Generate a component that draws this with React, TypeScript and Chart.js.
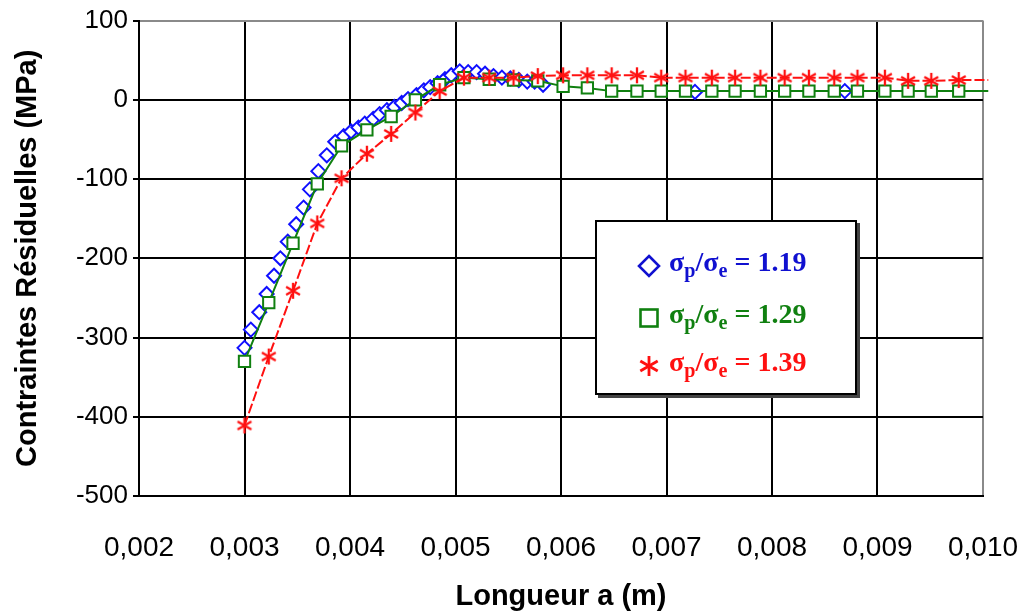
import React, { useEffect, useRef } from 'react';
import { Chart, registerables } from 'chart.js';

Chart.register(...registerables);

// ---- Data ----
const blueX = [0.003, 0.00306, 0.00314, 0.00321, 0.00328, 0.00334, 0.00341, 0.00349, 0.00356, 0.00362, 0.0037, 0.00378, 0.00386, 0.00394, 0.00401, 0.00408, 0.00414, 0.00422, 0.00428, 0.00435, 0.00442, 0.00449, 0.00455, 0.00463, 0.0047, 0.00476, 0.00483, 0.0049, 0.00496, 0.00504, 0.00512, 0.0052, 0.00528, 0.00536, 0.00544, 0.00552, 0.0056, 0.00568, 0.00575, 0.00583, 0.00727, 0.00869];
const blueY = [-313, -290, -268, -245, -222, -200, -179, -157, -136, -113, -90, -70, -53, -46, -40, -35, -30, -24, -18, -13, -9, -4, 1, 6, 12, 16, 21, 26, 31, 36, 35, 35, 33, 30, 28, 27, 25, 23, 23, 19, 10, 11];

const sampleX = [0.003, 0.00323, 0.00346, 0.00369, 0.00392, 0.00416, 0.00439, 0.00462, 0.00485, 0.00508, 0.00532, 0.00555, 0.00578, 0.00602, 0.00625, 0.00648, 0.00672, 0.00695, 0.00718, 0.00743, 0.00765, 0.00789, 0.00812, 0.00835, 0.00859, 0.00881, 0.00907, 0.00929, 0.00951, 0.00977, 0.01005];
const greenY = [-330, -256, -181, -106, -58, -38, -21, 0, 19, 28, 26, 25, 24, 17, 15, 11, 11, 11, 11, 11, 11, 11, 11, 11, 11, 11, 11, 11, 11, 11, 11];
const redY = [-411, -324, -241, -156, -99, -68, -43, -16, 11, 28, 28, 28, 30, 31, 31, 31, 31, 28, 28, 28, 28, 28, 28, 28, 28, 28, 28, 24, 24, 25, 25];

const xTickValues = [0.002, 0.003, 0.004, 0.005, 0.006, 0.007, 0.008, 0.009, 0.01];
const yTickValues = [-500, -400, -300, -200, -100, 0, 100];
const legendRatios = ['1.19', '1.29', '1.39'];
const legendColors = ['#1010d0', '#108010', '#ff1010'];

const xTitle = 'Longueur a (m)';
const yTitle = 'Contraintes Résiduelles (MPa)';

function makeStar(color: string) {
  const size = 20;
  const c = document.createElement('canvas');
  c.width = size;
  c.height = size;
  const ctx = c.getContext('2d')!;
  ctx.strokeStyle = color;
  ctx.lineWidth = 2.3;
  const cx = size / 2;
  const r = 8;
  ctx.beginPath();
  for (let i = 0; i < 3; i++) {
    const a = Math.PI / 2 + (i * Math.PI) / 3;
    ctx.moveTo(cx + Math.cos(a) * r, cx + Math.sin(a) * r);
    ctx.lineTo(cx - Math.cos(a) * r, cx - Math.sin(a) * r);
  }
  ctx.stroke();
  return c;
}

function LegendMarker({ kind, color }: { kind: number; color: string }) {
  if (kind === 0) {
    return (
      <svg width="24" height="24" viewBox="0 0 24 24">
        <polygon points="12,2 22,12 12,22 2,12" fill="none" stroke={color} strokeWidth="2.6" />
      </svg>
    );
  }
  if (kind === 1) {
    return (
      <svg width="24" height="24" viewBox="0 0 24 24">
        <rect x="3.5" y="3.5" width="17" height="17" fill="none" stroke={color} strokeWidth="2.6" />
      </svg>
    );
  }
  return (
    <svg width="24" height="24" viewBox="0 0 24 24">
      <g stroke={color} strokeWidth="2.8">
        <line x1="12" y1="2" x2="12" y2="22" />
        <line x1="3.3" y1="7" x2="20.7" y2="17" />
        <line x1="3.3" y1="17" x2="20.7" y2="7" />
      </g>
    </svg>
  );
}

export default function App() {
  const ref = useRef<HTMLCanvasElement>(null);

  useEffect(() => {
    document.body.style.margin = '0';
    const star = makeStar('#ff1010');
    const lastIdx = sampleX.length - 1;
    const chart = new Chart(ref.current!, {
      type: 'scatter',
      data: {
        datasets: [
          {
            label: 'sp/se = 1.19',
            data: blueX.map((x, i) => ({ x, y: blueY[i] })),
            showLine: false,
            pointStyle: 'rectRot',
            pointRadius: 7,
            pointBorderWidth: 2,
            pointBorderColor: '#1010ff',
            pointBackgroundColor: '#ffffff',
            order: 3,
          },
          {
            label: 'sp/se = 1.29',
            data: sampleX.map((x, i) => ({ x, y: greenY[i] })),
            showLine: true,
            borderColor: '#108010',
            borderWidth: 2,
            pointStyle: 'rect',
            pointRadius: (c: any) => (c.dataIndex === lastIdx ? 0 : 8),
            pointBorderWidth: 2,
            pointBorderColor: '#108010',
            pointBackgroundColor: '#ffffff',
            clip: { left: 0, top: 10, right: 12, bottom: 10 } as any,
            order: 2,
          },
          {
            label: 'sp/se = 1.39',
            data: sampleX.map((x, i) => ({ x, y: redY[i] })),
            showLine: true,
            borderColor: '#ff1010',
            borderWidth: 2,
            borderDash: [10, 3],
            pointStyle: star as any,
            pointRadius: (c: any) => (c.dataIndex === lastIdx ? 0 : 8),
            clip: { left: 0, top: 10, right: 12, bottom: 10 } as any,
            order: 1,
          },
        ],
      },
      options: {
        responsive: false,
        animation: false,
        layout: { padding: { left: 0, right: 44, top: 17, bottom: 0 } },
        plugins: {
          legend: { display: false },
          tooltip: { enabled: false },
        },
        scales: {
          x: {
            type: 'linear',
            min: xTickValues[0],
            max: xTickValues[xTickValues.length - 1],
            afterBuildTicks: (s: any) => {
              s.ticks = xTickValues.map((v) => ({ value: v }));
            },
            afterFit: (s: any) => {
              s.height = 120;
            },
            ticks: {
              color: '#000',
              padding: 4,
              font: { family: '"Liberation Sans", Arial, sans-serif', size: 28 },
              callback: (v: any) => Number(v).toFixed(3).replace('.', ','),
            },
            grid: {
              drawTicks: true,
              tickLength: 31,
              tickColor: 'rgba(0,0,0,0)',
              lineWidth: 2,
              color: (c: any) => (c.tick && Math.abs(c.tick.value - 0.01) < 1e-9 ? '#8a8a8a' : '#000'),
            },
            border: { color: '#000', width: 2 },
            title: {
              display: true,
              text: xTitle,
              color: '#000',
              font: { family: '"Liberation Sans", Arial, sans-serif', size: 29, weight: 'bold' },
              padding: { top: 0, bottom: 2 },
            },
          },
          y: {
            type: 'linear',
            min: yTickValues[0],
            max: yTickValues[yTickValues.length - 1],
            afterBuildTicks: (s: any) => {
              s.ticks = yTickValues.map((v) => ({ value: v }));
            },
            afterFit: (s: any) => {
              s.width = 139;
            },
            ticks: {
              color: '#000',
              padding: 5,
              font: { family: '"Liberation Sans", Arial, sans-serif', size: 26 },
            },
            grid: {
              lineWidth: 2,
              tickLength: 6,
              tickColor: '#000',
              color: (c: any) => (c.tick && c.tick.value === 100 ? '#8a8a8a' : '#000'),
            },
            border: { color: '#000', width: 2 },
            title: {
              display: true,
              text: yTitle,
              color: '#000',
              font: { family: '"Liberation Sans", Arial, sans-serif', size: 29, weight: 'bold' },
              padding: { top: 11, bottom: 0 },
            },
          },
        },
      } as any,
    });
    return () => chart.destroy();
  }, []);

  const rowTops = [30, 82, 130];

  return (
    <div style={{ position: 'relative', width: 1027, height: 616, background: '#fff' }}>
      <canvas ref={ref} width={1027} height={616} style={{ display: 'block' }} />
      <div
        style={{
          position: 'absolute',
          left: 595,
          top: 220,
          width: 258,
          height: 171,
          border: '2px solid #000',
          boxShadow: '3px 3px 0 #444',
          background: '#fff',
          fontFamily: '"Liberation Serif", "Times New Roman", serif',
          fontWeight: 'bold',
          fontSize: 28,
        }}
      >
        {legendRatios.map((r, i) => (
          <div
            key={r}
            style={{
              position: 'absolute',
              left: 40,
              top: rowTops[i],
              height: 28,
              display: 'flex',
              alignItems: 'center',
              color: legendColors[i],
              whiteSpace: 'nowrap',
              lineHeight: '28px',
            }}
          >
            <span style={{ display: 'inline-block', width: 32, height: 24 }}>
              <LegendMarker kind={i} color={legendColors[i]} />
            </span>
            <span>
              σ<sub style={{ fontSize: '0.72em', verticalAlign: '-0.3em' }}>p</sub>/σ
              <sub style={{ fontSize: '0.72em', verticalAlign: '-0.3em' }}>e</sub> = {r}
            </span>
          </div>
        ))}
      </div>
    </div>
  );
}
